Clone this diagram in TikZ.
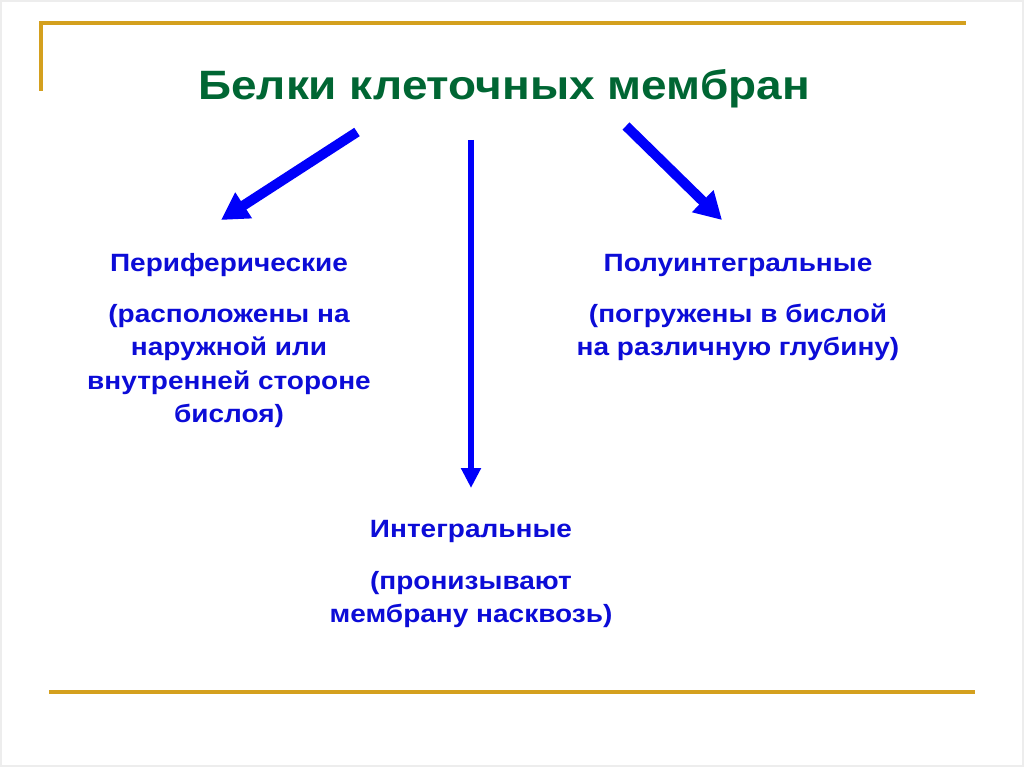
\documentclass[tikz,border=0pt]{standalone}
\usepackage{fontspec}
\setmainfont{Liberation Sans}[FakeStretch=1.12]
\usetikzlibrary{arrows.meta, positioning}
\definecolor{titlegreen}{RGB}{0,102,51}
\definecolor{textblue}{RGB}{12,12,215}
\definecolor{arrowblue}{RGB}{0,0,250}
\definecolor{rulegold}{RGB}{212,160,30}

\begin{document}
\begin{tikzpicture}[x=1pt, y=-1pt]
    % Define styles
    \tikzset{
        title style/.style={font=\fontsize{41}{46}\selectfont\bfseries, text=titlegreen, inner sep=0pt},
        head style/.style={font=\fontsize{25}{30}\selectfont\bfseries, text=textblue, inner sep=0pt},
        note style/.style={font=\fontsize{25}{33.4}\selectfont\bfseries, text=textblue, inner sep=0pt, align=center},
        big arrow/.style={-{Triangle[length=27pt, width=29pt]}, line width=10pt, arrowblue},
        long arrow/.style={-{Triangle[length=20pt, width=19pt]}, line width=6pt, arrowblue},
        rule line/.style={rulegold, line width=3.2pt}
    }

    \useasboundingbox (0,0) rectangle (1024,767);
    \draw[black!7, line width=1.5pt] (1,1) rectangle (1023,766);

    % Frame lines
    \draw[rule line] (41,91) -- (41,23) -- (966,23);
    \draw[rule line] (49,692) -- (975,692);

    % Title
    \node[title style] (title) at (504,89) {Белки клеточных мембран};

    % Peripheral proteins
    \node[head style] (peri) at (229,265) {Периферические};
    \node[note style] (peri note) at (229,366) {(расположены на\\наружной или\\внутренней стороне\\бислоя)};

    % Semi-integral proteins
    \node[head style] (semi) at (738,265) {Полуинтегральные};
    \node[note style] (semi note) at (738,332.5) {(погружены в бислой\\на различную глубину)};

    % Integral proteins
    \node[head style] (integ) at (471,531) {Интегральные};
    \node[note style] (integ note) at (471,599.5) {(пронизывают\\мембрану насквозь)};

    % Arrow ends
    \coordinate (left start) at (357,132);
    \coordinate (left end) at (221,220);
    \coordinate (mid start) at (471,140);
    \coordinate (mid end) at (471,488);
    \coordinate (right start) at (626,126);
    \coordinate (right end) at (722,220);

    % Draw arrows from title to groups
    \draw[big arrow] (left start) -- (left end);
    \draw[long arrow] (mid start) -- (mid end);
    \draw[big arrow] (right start) -- (right end);

\end{tikzpicture}
\end{document}
